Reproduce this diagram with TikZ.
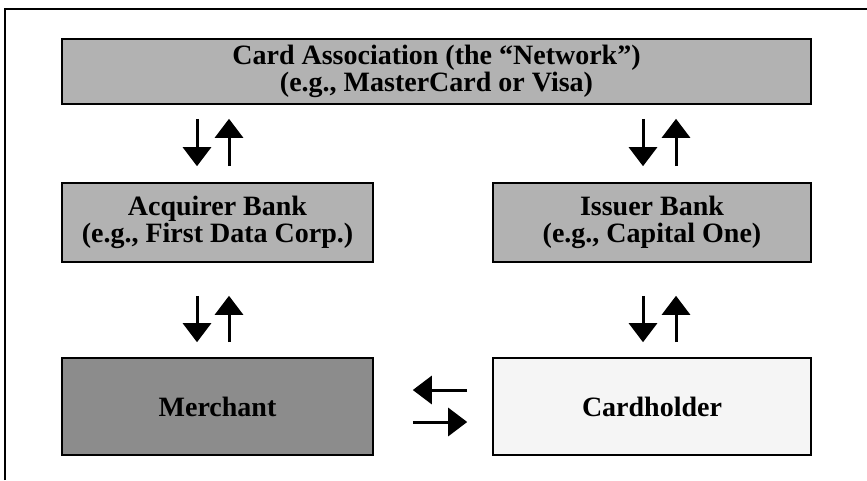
\documentclass[tikz,border=0pt]{standalone}
\usepackage{fontspec}
\setmainfont{Liberation Serif}
\usetikzlibrary{arrows.meta}
\definecolor{bankgray}{gray}{0.70}
\definecolor{shopgray}{gray}{0.55}
\definecolor{holdgray}{gray}{0.96}

\begin{document}
\begin{tikzpicture}[
    x=1pt, y=-1pt,
    party/.style={draw=black, line width=1.6pt, align=center, inner sep=0pt,
        font=\fontsize{28}{27}\selectfont\bfseries},
    flow/.style={line width=3pt, -{Triangle[length=19pt, width=28pt]}},
]
\useasboundingbox (0,0) rectangle (867,480);

% Outer frame (only top and left edges survive)
\draw[line width=1.4pt] (5,480) -- (5,9) -- (867,9);

% Network on top
\node[party, fill=bankgray, minimum width=749pt, minimum height=65pt]
    (net) at (436.5,71.5)
    {Card Association (the “Network”)\\(e.g., MasterCard or Visa)};

% Banks
\node[party, fill=bankgray, minimum width=311pt, minimum height=79pt]
    (acq) at (217.5,222.5)
    {Acquirer Bank\\(e.g., First Data Corp.)};
\node[party, fill=bankgray, minimum width=318pt, minimum height=79pt]
    (iss) at (652,222.5)
    {Issuer Bank\\(e.g., Capital One)};

% Merchant and cardholder
\node[party, fill=shopgray, minimum width=311pt, minimum height=97pt]
    (mer) at (217.5,406.5) {Merchant};
\node[party, fill=holdgray, minimum width=318pt, minimum height=97pt]
    (hold) at (652,406.5) {Cardholder};

% Network <-> acquirer
\draw[flow, shorten <=14pt, shorten >=16pt]
    ([xshift=-20.5pt]acq.north |- net.south) -- ([xshift=-20.5pt]acq.north);
\draw[flow, shorten <=16pt, shorten >=14pt]
    ([xshift=11.5pt]acq.north) -- ([xshift=11.5pt]acq.north |- net.south);

% Network <-> issuer
\draw[flow, shorten <=14pt, shorten >=16pt]
    ([xshift=-9pt]iss.north |- net.south) -- ([xshift=-9pt]iss.north);
\draw[flow, shorten <=16pt, shorten >=14pt]
    ([xshift=24pt]iss.north) -- ([xshift=24pt]iss.north |- net.south);

% Acquirer <-> merchant
\draw[flow, shorten <=33pt, shorten >=15pt]
    ([xshift=-20.5pt]acq.south) -- ([xshift=-20.5pt]mer.north);
\draw[flow, shorten <=15pt, shorten >=33pt]
    ([xshift=11.5pt]mer.north) -- ([xshift=11.5pt]acq.south);

% Issuer <-> cardholder
\draw[flow, shorten <=33pt, shorten >=15pt]
    ([xshift=-9pt]iss.south) -- ([xshift=-9pt]hold.north);
\draw[flow, shorten <=15pt, shorten >=33pt]
    ([xshift=24pt]hold.north) -- ([xshift=24pt]iss.south);

% Merchant <-> cardholder
\draw[flow, shorten <=25pt, shorten >=39pt]
    ([yshift=16.5pt]hold.west) -- ([yshift=16.5pt]mer.east);
\draw[flow, shorten <=39pt, shorten >=25pt]
    ([yshift=-15.5pt]mer.east) -- ([yshift=-15.5pt]hold.west);

\end{tikzpicture}
\end{document}
